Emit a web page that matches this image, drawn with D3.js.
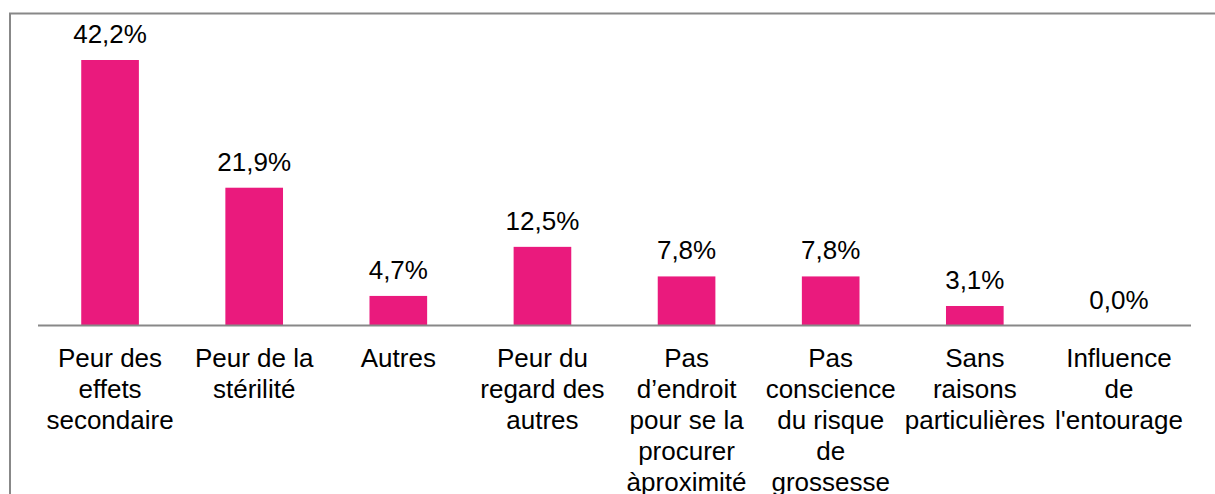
<!DOCTYPE html>
<html>
<head>
<meta charset="utf-8">
<script src="https://cdn.jsdelivr.net/npm/d3@7"></script>
<style>
  body { margin: 0; background: #fff; }
  svg { display: block; font-family: "Liberation Sans", Arial, sans-serif; }
</style>
</head>
<body>
<div id="chart"></div>
<script>
// Data
const categories = [
  "Peur des effets secondaire",
  "Peur de la stérilité",
  "Autres",
  "Peur du regard des autres",
  "Pas d’endroit pour se la procurer àproximité",
  "Pas conscience du risque de grossesse",
  "Sans raisons particulières",
  "Influence de l'entourage"
];
const values = [42.2, 21.9, 4.7, 12.5, 7.8, 7.8, 3.1, 0.0];
const labelLines = [
  ["Peur des", "effets", "secondaire"],
  ["Peur de la", "stérilité"],
  ["Autres"],
  ["Peur du", "regard des", "autres"],
  ["Pas", "d’endroit", "pour se la", "procurer", "àproximité"],
  ["Pas", "conscience", "du risque", "de", "grossesse"],
  ["Sans", "raisons", "particulières"],
  ["Influence", "de", "l'entourage"]
];

const width = 1215, height = 494;
const plotLeft = 38, plotRight = 1191, baseY = 325.5, topY = 60;

const svg = d3.select("#chart")
  .append("svg")
    .attr("width", width)
    .attr("height", height);

// Frame (top + left, cut off at the bottom/right)
svg.append("path")
  .attr("d", `M10,${height} L10,13.5 L${width},13.5`)
  .attr("fill", "none")
  .attr("stroke", "#888")
  .attr("stroke-width", 2);

// Scales
const x = d3.scaleBand()
  .domain(categories)
  .range([plotLeft, plotRight])
  .paddingInner(0.6)
  .paddingOuter(0.3);

const y = d3.scaleLinear()
  .domain([0, 42.2])
  .range([baseY, topY]);

// Bars
svg.selectAll("rect.bar")
  .data(values)
  .enter()
  .append("rect")
    .attr("class", "bar")
    .attr("x", (d, i) => x(categories[i]))
    .attr("y", d => y(d))
    .attr("width", x.bandwidth())
    .attr("height", d => baseY - y(d))
    .attr("fill", "#EA1A7D");

// Baseline
svg.append("line")
  .attr("x1", plotLeft)
  .attr("x2", plotRight)
  .attr("y1", baseY)
  .attr("y2", baseY)
  .attr("stroke", "#888")
  .attr("stroke-width", 2);

// Value labels
svg.selectAll("text.value")
  .data(values)
  .enter()
  .append("text")
    .attr("class", "value")
    .attr("x", (d, i) => x(categories[i]) + x.bandwidth() / 2)
    .attr("y", d => y(d) - 17)
    .attr("text-anchor", "middle")
    .style("font-size", "26px")
    .style("fill", "#000")
    .text(d => d.toFixed(1).replace(".", ",") + "%");

// Category labels
const cat = svg.selectAll("text.cat")
  .data(labelLines)
  .enter()
  .append("text")
    .attr("class", "cat")
    .attr("text-anchor", "middle")
    .style("font-size", "26px")
    .style("fill", "#000");

cat.each(function(lines, i) {
  const cx = x(categories[i]) + x.bandwidth() / 2;
  d3.select(this).selectAll("tspan")
    .data(lines)
    .enter()
    .append("tspan")
      .attr("x", cx)
      .attr("y", (d, j) => 367 + j * 31)
      .text(d => d);
});
</script>
</body>
</html>
